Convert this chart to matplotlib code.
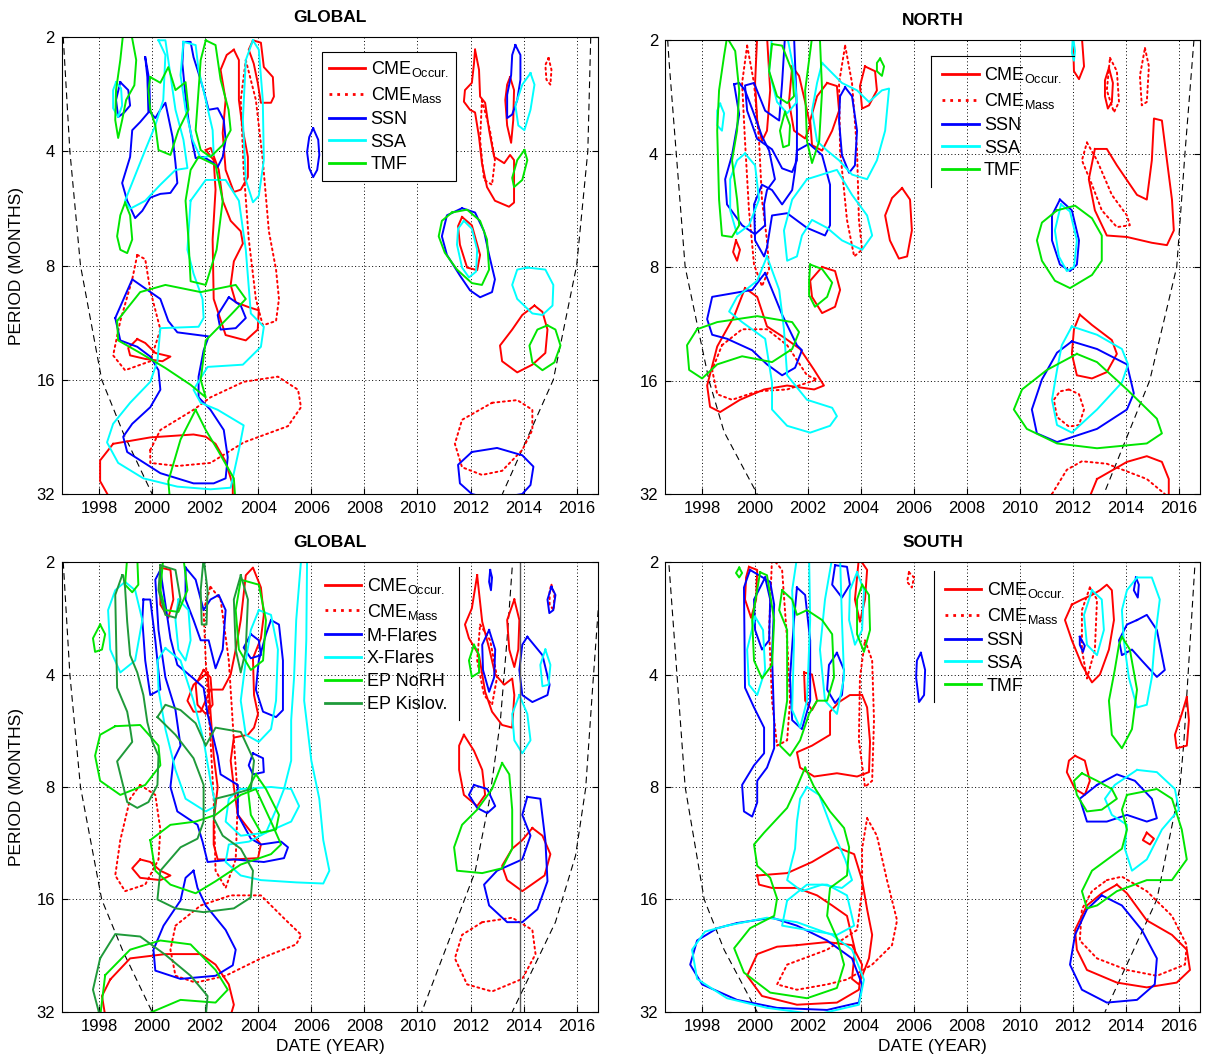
import matplotlib
matplotlib.use("Agg")
import matplotlib.pyplot as plt
from matplotlib.lines import Line2D
from matplotlib.ticker import NullLocator

plt.rcParams["font.family"] = ["Liberation Sans", "DejaVu Sans"]
plt.rcParams["mathtext.default"] = "regular"

# ---------------------------------------------------------------------------
# Data: significance contours, each loop = (years, periods)
# ---------------------------------------------------------------------------

# ---- GLOBAL (top) ----
ga_cme_occ = [
    ([2003.08, 2003.27, 2003.27, 2003.42, 2003.61, 2003.61, 2003.34, 2003.08, 2002.77, 2002.66, 2002.77, 2002.58, 2002.81],
     [2.16, 2.30, 2.93, 3.52, 4.14, 4.68, 5.05, 5.12, 4.48, 3.58, 2.93, 2.44, 2.23]),
    ([2003.8, 2004.1, 2004.21, 2004.55, 2004.59, 2004.48, 2004.1, 2003.98, 2003.83, 2003.64],
     [2.04, 2.07, 2.40, 2.55, 2.87, 2.98, 2.98, 2.64, 2.35, 2.16]),
    ([2002.02, 2002.32, 2002.39, 2002.28, 2002.32, 2002.77, 2003.53, 2003.98, 2004.02, 2003.64, 2003.15, 2002.96, 2003.08, 2003.42, 2003.34, 2002.96, 2002.66, 2002.51, 2002.21],
     [3.97, 4.22, 5.05, 6.83, 9.8, 12.2, 12.6, 11.8, 10.5, 10.3, 10.0, 9.0, 7.8, 7.0, 6.5, 6.1, 5.4, 4.48, 3.92]),
    ([1999.44, 1999.74, 2000.12, 2000.69, 2000.39, 1999.74, 1999.17, 1999.1],
     [12.5, 12.8, 13.6, 13.9, 14.3, 14.1, 13.8, 13.2]),
    ([1998.53, 1999.93, 2001.56, 2002.02, 2002.39, 2002.77, 2003.04, 2003.04, 2001.83, 1998.42, 1998.04, 1998.04],
     [23.6, 22.7, 22.3, 22.6, 23.6, 26.3, 30.3, 34.3, 36.3, 33.0, 29.6, 26.1]),
    ([2012.17, 2012.32, 2012.36, 2012.55, 2012.7, 2012.89, 2013.27, 2013.49, 2013.64, 2013.64, 2013.45, 2012.92, 2012.62, 2012.43, 2012.32, 2012.17, 2011.98, 2011.75, 2011.79, 2012.05, 2012.13],
     [2.16, 2.44, 2.87, 2.98, 3.52, 4.14, 4.30, 4.09, 4.22, 5.46, 5.6, 5.4, 4.97, 4.30, 3.67, 3.16, 3.11, 2.96, 2.76, 2.64, 2.35]),
    ([2013.49, 2013.64, 2013.61, 2013.53, 2013.38, 2013.31, 2013.38],
     [2.55, 2.76, 3.31, 3.8, 3.42, 2.93, 2.67]),
    ([2014.41, 2014.71, 2014.9, 2014.82, 2014.33, 2013.76, 2013.19, 2013.11, 2013.57, 2013.95],
     [10.2, 10.6, 11.8, 13.6, 14.6, 15.3, 14.3, 13.0, 11.8, 10.8]),
    ([2011.68, 2012.05, 2012.36, 2012.25, 2011.87, 2011.6, 2011.53],
     [5.96, 6.27, 7.5, 8.23, 8.1, 7.05, 6.3]),
]
ga_cme_mass = [
    ([1999.93, 2000.31, 2001.56, 2002.2, 2003.45, 2004.74, 2005.5, 2005.61, 2005.12, 2003.45, 2002.2, 2000.95, 1999.93],
     [24.5, 21.7, 19.2, 17.8, 16.2, 15.7, 17.0, 18.9, 21.2, 23.4, 26.5, 27.0, 26.5]),
    ([1999.44, 1999.74, 1999.93, 2000.31, 1999.93, 1998.98, 1998.53, 1998.8, 1999.25],
     [7.5, 7.7, 9.3, 11.8, 14.3, 15.1, 13.8, 11.2, 8.7]),
    ([2003.53, 2003.91, 2004.17, 2004.40, 2004.67, 2004.78, 2004.67, 2004.17, 2003.91, 2003.64, 2003.45, 2003.34],
     [2.3, 2.93, 4.22, 6.5, 8.2, 9.8, 11.2, 11.5, 9.8, 6.8, 4.48, 2.93]),
    ([2012.81, 2013.76, 2014.33, 2014.33, 2013.95, 2013.19, 2012.43, 2011.68, 2011.41, 2011.68],
     [18.4, 18.1, 19.2, 21.7, 24.5, 27.8, 28.5, 27.2, 23.6, 20.4]),
    ([2014.94, 2015.05, 2015.01, 2014.86, 2014.82],
     [2.27, 2.44, 2.67, 2.59, 2.37]),
    ([2012.43, 2012.73, 2012.92, 2012.81, 2012.51, 2012.36],
     [2.93, 3.52, 4.22, 4.9, 4.76, 3.73]),
]
ga_ssn = [
    ([1998.8, 1999.1, 1999.17, 1998.95, 1998.72, 1998.64],
     [2.63, 2.76, 3.03, 3.16, 3.25, 2.93]),
    ([1999.74, 1999.82, 1999.86, 1999.55, 1999.25, 1999.17, 1998.87, 1999.06, 1999.36, 1999.63, 1999.93, 2000.31, 2000.69, 2000.95, 2000.88, 2000.77, 2000.5, 2000.31, 2000.12, 1999.93, 1999.89],
     [2.26, 2.55, 3.16, 3.35, 3.52, 4.14, 4.85, 5.4, 6.0, 5.74, 5.3, 5.18, 5.15, 4.85, 4.3, 3.67, 2.98, 3.11, 3.27, 3.16, 2.59]),
    ([2001.18, 2001.45, 2001.56, 2001.75, 2001.94, 2002.13, 2002.47, 2002.7, 2002.77, 2002.66, 2002.47, 2002.28, 2001.94, 2001.64, 2001.52, 2001.37, 2001.26, 2001.14],
     [2.06, 2.06, 2.26, 2.49, 2.76, 3.11, 3.08, 3.31, 3.73, 4.14, 4.4, 4.28, 4.14, 4.17, 3.8, 3.31, 2.87, 2.35]),
    ([2006.07, 2006.26, 2006.3, 2006.22, 2006.07, 2005.92, 2005.84, 2005.92],
     [3.48, 3.73, 4.09, 4.48, 4.68, 4.43, 4.02, 3.67]),
    ([1998.61, 1999.25, 2000.31, 2000.61, 2000.95, 2002.13, 2001.94, 2001.75, 2001.75, 2002.2, 2002.7, 2002.85, 2002.77, 2002.32, 2001.56, 2000.31, 1999.06, 1998.91, 1999.25, 1999.93, 2000.31, 2000.24, 1999.93, 1999.44, 1998.8],
     [11.0, 8.7, 9.8, 11.2, 12.0, 12.3, 13.4, 15.7, 17.8, 19.2, 21.7, 25.6, 29.1, 30.0, 30.0, 28.2, 24.8, 22.6, 20.9, 18.9, 17.0, 15.1, 13.9, 13.1, 12.6]),
    ([2002.89, 2003.34, 2003.53, 2003.15, 2002.58, 2002.47],
     [9.7, 10.2, 11.0, 11.7, 11.8, 10.8]),
    ([2013.69, 2013.88, 2013.88, 2013.76, 2013.57, 2013.38, 2013.38, 2013.53, 2013.57],
     [2.1, 2.23, 2.59, 2.93, 3.2, 3.27, 2.84, 2.52, 2.23]),
    ([2011.68, 2012.17, 2012.51, 2012.7, 2012.92, 2012.81, 2012.36, 2011.98, 2011.6, 2011.11, 2010.92, 2011.11],
     [5.65, 5.8, 6.5, 7.5, 8.7, 9.4, 9.7, 9.3, 8.5, 7.5, 6.7, 5.9]),
    ([2012.05, 2013.0, 2013.95, 2014.37, 2014.26, 2013.95, 2012.81, 2012.05, 2011.6, 2011.53],
     [24.8, 24.2, 25.3, 27.1, 30.3, 32.0, 33.0, 32.0, 30.0, 26.8]),
]
ga_ssa = [
    ([1998.64, 1998.83, 1998.87, 1998.72, 1998.53, 1998.53],
     [2.63, 2.73, 3.03, 3.25, 3.08, 2.76]),
    ([2000.24, 2000.5, 2000.42, 2000.12, 1999.74, 1999.36, 1998.98, 1999.17, 1999.74, 2000.31, 2000.88, 2001.33, 2001.18, 2000.88, 2000.69, 2000.5],
     [2.04, 2.23, 2.93, 3.42, 3.97, 4.63, 5.4, 5.67, 5.4, 4.9, 4.48, 4.43, 3.73, 3.11, 2.52, 2.04]),
    ([2001.18, 2001.64, 2001.75, 2002.02, 2002.28, 2002.32, 2001.83, 2001.52, 2001.26, 2001.07],
     [2.06, 2.1, 2.44, 2.93, 3.52, 4.09, 4.17, 3.73, 3.11, 2.52]),
    ([2001.45, 2001.33, 2001.56, 2001.9, 2001.94, 2001.75, 2000.31, 2000.2, 1999.93, 1999.17, 1998.53, 1998.3, 1998.72, 1999.67, 2000.95, 2002.2, 2002.96, 2003.27, 2003.45, 2002.47, 2001.83, 2001.56, 2002.09, 2003.42, 2004.1, 2004.21, 2003.72, 2003.53, 2003.27, 2002.77, 2002.02],
     [5.4, 7.27, 8.4, 9.8, 11.0, 11.6, 11.7, 14.3, 16.2, 18.4, 20.9, 23.4, 26.5, 29.1, 30.6, 31.1, 30.8, 24.5, 21.1, 19.2, 18.4, 17.0, 14.8, 14.6, 13.1, 11.6, 10.7, 7.27, 5.4, 4.76, 4.76]),
    ([2003.8, 2004.02, 2004.17, 2004.21, 2004.02, 2003.8, 2003.53, 2003.42, 2003.53],
     [2.04, 2.16, 2.93, 4.22, 5.24, 5.45, 4.76, 3.31, 2.3]),
    ([2011.75, 2012.05, 2012.25, 2012.21, 2011.94, 2011.68, 2011.49, 2011.53],
     [6.1, 6.4, 7.27, 8.3, 8.6, 8.1, 7.05, 6.4]),
    ([2014.26, 2014.41, 2014.26, 2014.03, 2013.8, 2013.69, 2013.95],
     [2.49, 2.67, 3.11, 3.52, 3.42, 3.03, 2.67]),
    ([2014.14, 2014.82, 2015.12, 2015.09, 2014.71, 2014.33, 2013.76, 2013.57, 2013.76],
     [8.1, 8.2, 9.0, 10.2, 10.8, 10.7, 9.8, 9.0, 8.2]),
]
ga_tmf = [
    ([1998.91, 1999.21, 1999.40, 1999.33, 1999.02, 1998.87, 1998.72, 1998.61, 1998.64, 1998.8],
     [1.95, 1.95, 2.3, 2.68, 2.93, 3.31, 3.69, 3.31, 2.76, 2.3]),
    ([1998.98, 1999.17, 1999.25, 1999.06, 1998.8, 1998.68, 1998.8],
     [5.46, 5.9, 6.83, 7.42, 7.27, 6.7, 5.9]),
    ([1999.93, 2000.31, 2000.61, 2000.88, 2001.26, 2001.37, 2000.99, 2000.69, 2000.24, 2000.12, 1999.93, 1999.86],
     [2.55, 2.64, 2.4, 2.76, 2.63, 3.11, 3.52, 4.09, 3.97, 3.42, 3.11, 2.76]),
    ([2002.02, 2002.39, 2002.58, 2002.88, 2002.96, 2002.66, 2002.2, 2001.83, 2001.64, 2001.75, 2001.83],
     [2.04, 2.1, 2.59, 3.11, 3.52, 3.85, 4.14, 3.97, 3.52, 2.76, 2.3]),
    ([1998.68, 1999.55, 2000.5, 2001.83, 2003.15, 2003.53, 2002.96, 2002.02, 2001.83, 2002.02, 2001.45, 2000.5, 1999.55, 1998.72],
     [11.2, 9.4, 9.0, 9.4, 9.0, 9.8, 10.8, 12.6, 16.0, 17.8, 16.5, 14.9, 13.6, 12.6]),
    ([2001.64, 2002.02, 2002.47, 2003.08, 2003.15, 2000.69, 2000.61, 2001.07],
     [19.2, 21.7, 24.5, 29.1, 34.3, 34.3, 29.6, 23.0]),
    ([2001.75, 2002.39, 2002.66, 2002.43, 2002.02, 2001.45, 2001.37, 2001.26, 2001.45],
     [4.14, 4.35, 5.4, 7.27, 9.0, 8.8, 6.83, 5.4, 4.48]),
    ([2011.3, 2011.87, 2012.36, 2012.62, 2012.7, 2012.43, 2012.05, 2011.49, 2011.03, 2010.8, 2010.92],
     [5.8, 5.7, 6.1, 6.83, 8.2, 9.0, 8.9, 8.2, 7.4, 6.7, 6.1]),
    ([2014.03, 2014.14, 2013.95, 2013.64, 2013.57, 2013.76],
     [3.97, 4.22, 4.76, 4.97, 4.7, 4.22]),
    ([2014.9, 2015.2, 2015.39, 2015.16, 2014.71, 2014.33, 2014.22, 2014.52],
     [11.5, 11.8, 13.0, 14.4, 15.1, 14.4, 13.0, 11.8]),
]
ga_coi_left = ([1996.65, 1996.9, 1997.3, 1998.1, 1998.9, 2000.0], [2, 4, 8, 16, 22, 32])
ga_coi_right = ([2016.53, 2016.42, 2016.0, 2015.12, 2013.2], [2, 4, 8, 16, 32])

# ---- NORTH ----
no_cme_occ = [
    ([2000.08, 2000.45, 2000.57, 2000.45, 2000.26, 2000.08, 2000.0],
     [1.95, 1.95, 2.72, 3.48, 3.71, 3.27, 2.6]),
    ([2001.4, 2001.66, 2001.89, 2002.08, 2001.89, 2001.47, 2001.28],
     [2.35, 2.49, 2.92, 3.37, 3.65, 3.48, 2.92]),
    ([2002.72, 2003.09, 2003.17, 2002.91, 2002.53, 2002.15, 2002.08, 2002.34],
     [2.6, 2.65, 3.08, 3.48, 3.93, 3.8, 3.27, 2.82]),
    ([2004.15, 2004.53, 2004.6, 2004.3, 2004.04, 2003.96],
     [2.35, 2.42, 2.72, 2.98, 3.04, 2.65]),
    ([2005.55, 2005.85, 2005.92, 2005.74, 2005.43, 2005.09, 2004.91, 2005.17],
     [4.94, 5.3, 6.4, 7.5, 7.6, 6.8, 5.84, 5.25]),
    ([1999.28, 1999.43, 1999.32, 1999.17],
     [6.8, 7.2, 7.7, 7.3]),
    ([1999.62, 2000.08, 2000.45, 2001.09, 2001.7, 2002.23, 2002.6, 2002.23, 2001.21, 2000.34, 1999.43, 1998.68, 1998.3, 1998.19, 1998.57, 1999.21],
     [9.1, 9.6, 11.5, 12.3, 13.2, 15.0, 16.5, 16.9, 16.5, 16.9, 18.0, 19.4, 18.8, 16.5, 13.0, 10.8]),
    ([2002.53, 2003.02, 2003.21, 2003.02, 2002.53, 2002.15, 2002.08],
     [8.0, 8.2, 9.2, 10.2, 10.6, 9.6, 8.7]),
    ([2012.83, 2013.28, 2013.66, 2014.42, 2014.79, 2014.98, 2015.06, 2015.36, 2015.55, 2015.74, 2015.81, 2015.55, 2014.98, 2014.04, 2013.28, 2012.83, 2012.6],
     [3.89, 3.89, 4.3, 5.15, 5.3, 4.17, 3.23, 3.27, 4.17, 5.3, 6.4, 7.0, 6.9, 6.66, 6.6, 5.66, 4.68]),
    ([2012.0, 2012.34, 2012.42, 2012.23, 2012.04],
     [1.95, 1.97, 2.35, 2.54, 2.42]),
    ([2013.36, 2013.51, 2013.47, 2013.32, 2013.21, 2013.21],
     [2.37, 2.6, 2.92, 3.04, 2.82, 2.56]),
    ([2012.26, 2012.72, 2013.47, 2013.66, 2013.28, 2012.72, 2012.15, 2011.96, 2012.04],
     [10.7, 11.4, 12.5, 13.6, 15.2, 15.8, 15.5, 13.6, 11.7]),
    ([2012.91, 2014.04, 2014.79, 2015.36, 2015.62, 2015.62, 2012.6],
     [29.2, 26.3, 25.4, 26.3, 29.2, 33.0, 33.0]),
]
no_cme_mass = [
    ([2011.85, 2012.23, 2012.42, 2012.23, 2011.85, 2011.4, 2011.28, 2011.51],
     [16.9, 17.4, 19.1, 21.0, 21.2, 20.0, 18.0, 17.1]),
    ([2011.21, 2011.77, 2012.34, 2013.28, 2014.79, 2015.47, 2015.55, 2011.13],
     [32.0, 27.6, 26.2, 26.6, 29.2, 32.0, 33.8, 33.8]),
    ([2012.53, 2012.91, 2013.47, 2014.04, 2014.15, 2013.66, 2013.09, 2012.72, 2012.34],
     [3.74, 4.17, 5.15, 5.84, 6.2, 6.27, 5.66, 4.84, 4.17]),
    ([2014.72, 2014.87, 2014.79, 2014.6, 2014.53],
     [2.1, 2.35, 2.92, 2.98, 2.49]),
    ([2013.4, 2013.66, 2013.74, 2013.55, 2013.28],
     [2.23, 2.42, 2.92, 3.11, 2.72]),
    ([1999.7, 1999.96, 2000.15, 2000.26, 2000.45, 2000.53, 2000.26, 1999.96, 1999.77, 1999.62, 1999.51],
     [2.07, 2.6, 3.71, 5.3, 6.8, 8.1, 9.0, 7.88, 5.66, 3.71, 2.6]),
    ([1998.75, 1999.51, 2000.45, 2001.21, 2001.96, 2002.34, 2001.21, 2000.08, 1999.13, 1998.57, 1998.38],
     [12.9, 11.7, 11.7, 12.9, 15.5, 15.9, 16.9, 17.1, 18.0, 17.4, 15.0]),
    ([2003.4, 2003.66, 2003.85, 2003.92, 2004.04, 2003.74, 2003.47, 2003.21, 2003.17],
     [2.07, 2.6, 3.93, 6.0, 7.2, 7.5, 6.0, 3.93, 2.6]),
]
no_ssn = [
    ([1999.21, 1999.4, 1999.13, 1998.87, 1998.94, 1999.51, 2000.0, 2000.38, 2000.34, 2000.45, 2000.75, 2000.53, 2000.26, 1999.89, 1999.62, 1999.4],
     [2.62, 3.15, 4.04, 4.68, 5.46, 6.2, 6.55, 6.2, 5.46, 5.0, 4.68, 3.93, 3.6, 3.05, 2.72, 2.6]),
    ([2001.13, 2001.47, 2001.58, 2001.58, 2001.4, 2001.02, 2000.64, 2000.08, 1999.7, 1999.62, 1999.96, 2000.38, 2000.91, 2001.02],
     [1.95, 1.95, 3.08, 4.17, 4.48, 4.38, 3.9, 3.66, 3.08, 2.64, 2.6, 3.08, 3.27, 2.6]),
    ([2001.58, 2002.04, 2002.53, 2002.83, 2002.83, 2002.64, 2001.96, 2001.21, 2000.64, 2000.45, 2000.34, 2000.0, 1999.96, 2000.26, 2000.64, 2001.02, 2001.4, 2001.51],
     [3.93, 3.77, 4.04, 4.84, 6.2, 6.6, 6.3, 5.76, 5.84, 7.1, 7.5, 6.8, 5.46, 4.84, 5.0, 5.46, 5.0, 4.42]),
    ([2003.4, 2003.66, 2003.85, 2003.77, 2003.55, 2003.28, 2003.17, 2003.21],
     [2.67, 2.82, 3.48, 4.3, 4.5, 4.04, 3.27, 2.82]),
    ([2000.38, 2000.64, 2001.02, 2001.58, 2001.77, 2001.51, 2001.02, 2000.45, 1999.89, 1998.94, 1998.38, 1998.19, 1998.38, 1999.13, 1999.89, 2000.26],
     [8.3, 9.2, 10.7, 12.9, 13.3, 14.8, 15.5, 14.5, 13.3, 12.4, 12.1, 11.0, 9.6, 9.4, 9.2, 8.5]),
    ([2011.51, 2011.96, 2012.23, 2012.15, 2011.89, 2011.51, 2011.21, 2011.21],
     [5.3, 5.66, 6.8, 7.88, 8.2, 7.88, 6.8, 5.84]),
    ([2011.96, 2012.91, 2014.04, 2014.3, 2014.04, 2012.91, 2011.4, 2010.64, 2010.45, 2010.83, 2011.4],
     [12.6, 13.2, 14.5, 17.3, 19.1, 21.5, 23.3, 22.1, 19.1, 15.9, 13.5]),
]
no_ssa = [
    ([1998.68, 1998.83, 1998.75, 1998.57, 1998.57],
     [2.95, 3.13, 3.48, 3.37, 3.08]),
    ([1999.62, 2000.0, 2000.15, 1999.77, 1999.32, 1999.06, 1999.06, 1999.32],
     [4.0, 4.3, 5.3, 6.2, 6.55, 5.66, 4.68, 4.17]),
    ([2000.64, 2001.21, 2001.47, 2001.58, 2001.21, 2000.83, 2000.53],
     [1.95, 1.95, 2.42, 2.92, 3.13, 2.92, 2.42]),
    ([2002.53, 2003.28, 2003.85, 2004.3, 2004.79, 2005.06, 2004.91, 2004.6, 2004.23, 2003.66, 2003.17, 2002.72, 2002.34, 2002.15, 2002.34],
     [2.3, 2.6, 2.72, 2.92, 2.72, 2.69, 3.48, 4.17, 4.68, 4.55, 4.17, 3.93, 3.71, 3.08, 2.6]),
    ([2001.96, 2003.09, 2003.66, 2004.23, 2004.42, 2004.04, 2003.28, 2002.72, 2002.15, 2001.77, 2001.58, 2001.21, 2001.09, 2001.4],
     [4.68, 4.42, 5.15, 5.84, 6.6, 7.2, 6.8, 6.3, 6.0, 6.6, 7.5, 7.7, 6.4, 5.3]),
    ([2000.45, 2000.91, 2001.09, 2001.21, 2001.96, 2002.91, 2003.09, 2002.83, 2002.08, 2001.21, 2000.64, 2000.64, 2000.38, 1999.51, 1999.02, 1999.32, 2000.08],
     [7.5, 9.2, 11.7, 15.5, 18.0, 18.9, 19.9, 21.1, 22.0, 21.1, 19.1, 16.2, 12.4, 11.2, 10.5, 9.6, 8.7]),
    ([2011.55, 2011.89, 2012.15, 2012.04, 2011.77, 2011.47, 2011.32],
     [5.46, 5.7, 6.8, 8.0, 8.2, 7.5, 6.4]),
    ([2011.96, 2012.91, 2013.85, 2014.08, 2013.85, 2012.91, 2011.96, 2011.4, 2011.21, 2011.4, 2011.58],
     [11.5, 12.1, 13.2, 14.5, 16.2, 19.1, 22.0, 21.0, 18.0, 15.0, 12.9]),
    ([2012.0, 2012.08, 2012.04, 2011.96],
     [1.95, 2.14, 2.27, 2.16]),
]
no_tmf = [
    ([1998.94, 1999.25, 1999.4, 1999.32, 1999.13, 1999.32, 1999.4, 1999.13, 1998.75, 1998.64, 1998.57, 1998.64, 1998.83],
     [1.97, 2.14, 2.72, 3.48, 4.17, 5.3, 6.2, 6.66, 6.6, 5.3, 3.48, 2.72, 2.2]),
    ([2000.64, 2001.02, 2001.4, 2001.47, 2001.21, 2000.83, 2000.53],
     [2.05, 2.07, 2.42, 2.82, 2.94, 2.82, 2.42]),
    ([2001.13, 2001.32, 2001.28, 2001.06, 2000.94],
     [3.1, 3.37, 3.8, 3.85, 3.48]),
    ([2002.15, 2002.45, 2002.53, 2002.42, 2002.15, 2001.96, 2001.89],
     [1.97, 2.0, 2.72, 3.71, 4.24, 3.71, 2.72]),
    ([2004.72, 2004.87, 2004.79, 2004.6, 2004.6],
     [2.24, 2.35, 2.49, 2.42, 2.3]),
    ([2002.08, 2002.53, 2002.91, 2002.72, 2002.26, 2002.04, 2002.04],
     [7.88, 8.1, 8.8, 9.6, 10.2, 9.5, 8.7]),
    ([1997.81, 1998.57, 2000.08, 2001.4, 2001.66, 2001.4, 2000.64, 1999.51, 1998.57, 1998.0, 1997.51, 1997.43],
     [11.7, 11.2, 10.8, 11.2, 11.9, 13.2, 14.3, 13.8, 14.5, 15.8, 15.0, 12.9]),
    ([2011.4, 2012.08, 2012.72, 2013.09, 2013.09, 2012.72, 2011.89, 2011.32, 2010.83, 2010.64, 2010.83],
     [5.66, 5.5, 5.94, 6.6, 7.7, 8.4, 9.1, 8.7, 7.7, 6.8, 6.1]),
    ([2012.15, 2012.91, 2014.04, 2015.17, 2015.36, 2014.79, 2012.91, 2011.4, 2010.26, 2009.77, 2010.08, 2011.02],
     [13.6, 14.3, 16.9, 20.2, 22.1, 23.5, 24.2, 23.5, 21.5, 19.1, 16.9, 15.0]),
]
no_coi_left = ([1996.7, 1996.75, 1997.36, 1998.26, 1998.83, 2000.08], [2.0, 2.27, 8, 16, 21.9, 32])
no_coi_right = ([2016.57, 2016.23, 2015.92, 2014.9, 2013.17], [2, 4, 8, 16, 32])

# ---- GLOBAL (bottom, flares / EP) ----
gb_cme_occ = [
    ([2002.09, 2002.32, 2002.47, 2002.32, 2002.32, 2002.47, 2003.08, 2003.99, 2004.1, 2003.61, 2003.23, 2003.08, 2002.96, 2003.08, 2003.61, 2003.84, 2003.99, 2003.84, 2003.8, 2004.1, 2004.21, 2004.1, 2003.8, 2003.53, 2003.34, 2003.15, 2002.96, 2002.66, 2002.2, 2001.83, 2001.56, 2001.33, 2001.56, 2001.83],
     [3.95, 6.6, 8.0, 9.9, 11.4, 12.5, 12.5, 12.4, 11.4, 10.3, 9.5, 8.0, 6.8, 5.9, 5.8, 5.55, 5.1, 4.54, 3.62, 3.2, 2.77, 2.34, 2.07, 2.17, 2.86, 3.43, 4.0, 4.39, 4.39, 5.03, 5.03, 4.7, 4.26, 4.1]),
    ([2000.31, 2000.69, 2000.8, 2000.61, 2000.31],
     [2.07, 2.1, 2.52, 2.82, 2.6]),
    ([2001.94, 2002.2, 2002.28, 2002.02, 2001.71, 2001.64],
     [3.89, 4.07, 4.82, 5.1, 4.82, 4.26]),
    ([1999.55, 1999.93, 2000.31, 2000.69, 2000.31, 1999.55, 1999.25],
     [12.5, 12.7, 13.4, 13.8, 14.2, 14.0, 13.2]),
    ([1998.42, 1999.17, 2000.5, 2001.83, 2002.39, 2002.89, 2003.08, 2002.96, 1998.23, 1998.11],
     [26.2, 23.0, 22.4, 22.4, 23.9, 27.0, 30.6, 32.7, 32.7, 29.0]),
    ([2012.25, 2012.44, 2012.7, 2012.93, 2013.27, 2013.57, 2013.65, 2013.57, 2013.19, 2012.81, 2012.55, 2012.32, 2011.94, 2011.79, 2012.05],
     [2.17, 2.89, 3.4, 4.0, 4.26, 4.1, 4.54, 5.55, 5.46, 5.03, 4.45, 3.55, 3.2, 2.94, 2.66]),
    ([2013.65, 2013.84, 2013.8, 2013.65, 2013.46, 2013.38],
     [2.52, 2.86, 3.43, 3.82, 3.43, 2.86]),
    ([2011.75, 2012.13, 2012.44, 2012.55, 2012.25, 2011.75, 2011.57, 2011.57],
     [5.8, 6.4, 7.2, 8.4, 9.0, 8.4, 7.2, 6.2]),
    ([2014.33, 2014.71, 2015.01, 2014.79, 2013.95, 2013.38, 2013.19, 2013.57, 2013.95],
     [10.3, 10.8, 12.1, 13.8, 15.2, 14.2, 13.0, 11.7, 11.1]),
]
gb_cme_mass = [
    ([1999.55, 2000.12, 2000.31, 2000.24, 1999.74, 1998.98, 1998.61, 1998.8, 1999.17],
     [7.9, 8.4, 10.4, 12.5, 14.6, 15.2, 13.8, 11.1, 8.6]),
    ([2000.88, 2001.83, 2002.96, 2004.1, 2005.05, 2005.62, 2005.43, 2004.1, 2002.77, 2001.64, 2000.88, 2000.69],
     [18.8, 16.6, 15.6, 15.6, 18.2, 19.9, 21.1, 23.0, 25.6, 26.7, 25.6, 21.8]),
    ([2002.2, 2002.58, 2002.89, 2003.08, 2003.23, 2003.15, 2002.77, 2002.39, 2002.32, 2002.2, 2002.02, 2001.94],
     [2.33, 2.52, 3.67, 6.0, 8.6, 12.5, 14.9, 13.4, 8.6, 6.0, 3.67, 2.69]),
    ([2012.44, 2013.57, 2014.33, 2014.45, 2013.95, 2012.81, 2011.87, 2011.41, 2011.68],
     [18.4, 17.9, 19.3, 22.4, 26.1, 28.2, 27.0, 23.0, 19.9]),
    ([2012.36, 2012.74, 2013.0, 2012.81, 2012.51, 2012.25],
     [2.94, 3.24, 4.07, 4.82, 4.54, 3.67]),
    ([2015.05, 2015.16, 2015.13, 2014.98, 2014.98],
     [2.3, 2.45, 2.69, 2.6, 2.38]),
]
gb_mflares = [
    ([1999.67, 1999.93, 2000.12, 2000.31, 1999.93, 1999.74, 1999.63],
     [2.52, 2.52, 3.24, 4.39, 4.54, 3.67, 2.86]),
    ([2000.31, 2000.69, 2000.95, 2001.56, 2001.94, 2002.09, 2002.47, 2002.58, 2003.23, 2003.23, 2003.72, 2004.1, 2004.86, 2005.12, 2004.97, 2004.21, 2003.08, 2002.09, 2001.9, 2001.71, 2000.95, 2000.69, 2000.8, 2001.07, 2000.88, 2000.5, 2000.24, 2000.12],
     [2.1, 3.2, 3.77, 4.1, 4.34, 5.1, 6.6, 7.4, 7.9, 9.5, 11.0, 11.4, 11.2, 11.6, 12.4, 12.7, 12.5, 12.7, 11.2, 10.1, 9.3, 8.0, 6.8, 6.2, 4.98, 4.07, 3.04, 2.23]),
    ([2001.56, 2001.71, 2002.02, 2002.77, 2003.15, 2003.04, 2002.39, 2001.07, 2000.12, 2000.05, 2000.43, 2001.07, 2001.26],
     [13.4, 14.9, 16.6, 19.3, 21.8, 24.0, 25.6, 26.1, 24.8, 21.8, 18.8, 16.1, 14.0]),
    ([2001.26, 2001.64, 2001.94, 2002.2, 2002.51, 2002.77, 2002.66, 2002.39, 2002.13, 2001.83, 2001.56, 2001.26],
     [2.07, 2.23, 2.69, 2.52, 2.45, 2.69, 3.43, 3.85, 3.24, 3.24, 2.86, 2.52]),
    ([2003.72, 2004.02, 2004.1, 2003.72, 2003.45],
     [3.12, 3.24, 3.55, 3.62, 3.39]),
    ([2004.48, 2004.78, 2004.93, 2004.93, 2004.67, 2004.18, 2003.91, 2004.02, 2004.29],
     [2.86, 2.94, 3.67, 4.98, 5.2, 5.03, 4.39, 3.67, 3.12]),
    ([2003.8, 2004.18, 2004.21, 2003.8, 2003.64],
     [6.5, 6.7, 7.3, 7.4, 7.0]),
    ([2012.7, 2012.93, 2012.89, 2012.7, 2012.47, 2012.44],
     [3.04, 3.43, 4.07, 4.45, 3.89, 3.33]),
    ([2014.14, 2014.71, 2014.98, 2014.9, 2014.33, 2013.95, 2013.84, 2013.95],
     [3.17, 3.55, 4.26, 4.54, 4.74, 4.54, 3.89, 3.33]),
    ([2012.13, 2012.63, 2012.93, 2012.63, 2012.25, 2011.94],
     [7.9, 8.1, 9.0, 9.4, 9.1, 8.4]),
    ([2014.14, 2014.63, 2014.82, 2014.9, 2014.52, 2013.95, 2013.38, 2012.7, 2012.51, 2013.0, 2013.95, 2014.26, 2013.95],
     [8.5, 8.6, 11.1, 14.3, 17.0, 18.4, 18.4, 16.6, 14.6, 13.4, 12.5, 10.8, 9.5]),
    ([2012.74, 2012.81, 2012.77, 2012.7],
     [2.1, 2.2, 2.38, 2.26]),
    ([2015.05, 2015.2, 2015.12, 2014.97, 2014.9],
     [2.33, 2.45, 2.69, 2.74, 2.52]),
]
gb_xflares = [
    ([1998.98, 1999.36, 1999.63, 1999.36, 1998.8, 1998.42, 1998.34, 1998.61],
     [2.26, 2.38, 2.86, 3.67, 3.95, 3.43, 2.69, 2.38]),
    ([2000.5, 2001.07, 2001.56, 2001.94, 2002.2, 2002.39, 2002.02, 2001.26, 2000.88, 2000.5, 2000.24, 2000.2],
     [3.4, 3.67, 4.7, 6.0, 7.7, 9.0, 9.3, 8.6, 7.2, 5.6, 4.39, 3.67]),
    ([2005.62, 2005.84, 2005.81, 2005.73, 2006.0, 2006.3, 2006.45, 2006.68, 2006.45, 2005.43, 2004.1, 2003.34, 2002.77, 2002.89, 2003.65, 2004.29, 2004.67, 2004.97, 2005.24, 2005.24, 2005.35, 2005.43],
     [1.95, 1.95, 3.24, 4.7, 6.8, 8.6, 11.1, 13.4, 14.5, 14.4, 14.2, 13.8, 12.7, 11.4, 11.2, 10.6, 9.2, 8.1, 6.8, 5.3, 4.07, 2.86]),
    ([2004.02, 2004.48, 2004.74, 2004.67, 2004.48, 2004.02, 2003.53, 2003.34, 2003.53, 2003.72],
     [2.69, 2.77, 3.43, 4.7, 5.6, 6.06, 5.8, 4.7, 3.67, 3.04]),
    ([2003.34, 2004.48, 2005.24, 2005.54, 2005.24, 2004.29, 2003.34, 2002.77, 2002.89],
     [8.1, 8.0, 8.1, 9.0, 9.9, 10.6, 10.8, 9.9, 8.6]),
    ([2000.99, 2001.37, 2001.45, 2001.26, 2000.99, 2000.88],
     [2.52, 2.69, 3.24, 3.67, 3.43, 2.86]),
    ([2013.84, 2014.14, 2014.26, 2013.95, 2013.65, 2013.57],
     [4.54, 5.1, 6.0, 6.5, 6.0, 5.1]),
    ([2014.82, 2015.01, 2014.94, 2014.71, 2014.63],
     [3.43, 3.77, 4.26, 4.3, 3.77]),
]
gb_ep_norh = [
    ([1998.04, 1998.23, 1998.11, 1997.85, 1997.77],
     [2.94, 3.12, 3.43, 3.48, 3.2]),
    ([1998.61, 1999.55, 2000.24, 2000.31, 1999.74, 1998.8, 1998.04, 1997.85, 1998.04],
     [5.5, 5.46, 6.2, 7.0, 7.9, 8.4, 7.7, 6.6, 5.8]),
    ([1999.93, 2000.69, 2001.64, 2002.39, 2003.34, 2003.91, 2004.48, 2004.86, 2004.48, 2003.34, 2002.39, 2001.64, 2000.69, 2000.12],
     [11.1, 10.1, 9.9, 9.5, 8.4, 8.1, 9.9, 11.4, 12.1, 12.9, 14.3, 15.4, 14.6, 13.4]),
    ([1998.23, 1999.17, 2000.31, 2001.45, 2002.39, 2002.85, 2002.39, 2001.07, 1999.55, 1998.04],
     [25.5, 21.8, 20.6, 21.1, 24.7, 27.9, 30.2, 29.7, 33.0, 33.0]),
    ([2003.34, 2004.02, 2004.29, 2004.18, 2003.72, 2003.27, 2003.15],
     [2.23, 2.3, 2.86, 3.67, 3.89, 3.43, 2.69]),
    ([1999.06, 1999.44, 1999.48, 1999.25, 1998.98],
     [1.95, 1.95, 2.3, 2.41, 2.3]),
    ([2000.42, 2001.18, 2001.33, 2000.99, 2000.5, 2000.31],
     [1.95, 1.95, 2.38, 2.72, 2.69, 2.38]),
    ([2013.19, 2013.46, 2013.57, 2013.57, 2013.19, 2012.44, 2011.49, 2011.38, 2011.68, 2012.25, 2012.81],
     [6.9, 7.4, 9.2, 11.7, 13.2, 13.6, 13.4, 11.6, 10.1, 9.2, 8.1]),
    ([2012.13, 2012.32, 2012.32, 2012.05, 2011.94],
     [3.33, 3.55, 3.95, 4.06, 3.67]),
    ([2003.91, 2004.29, 2004.78, 2004.67, 2004.1, 2003.72, 2003.61],
     [7.4, 8.1, 9.5, 10.4, 10.6, 9.5, 8.1]),
]
gb_ep_kislov = [
    ([1998.87, 1998.61, 1998.68, 1999.06, 1999.17, 1999.25, 1998.68, 1999.06, 1999.44, 1999.86, 2000.2, 2000.24, 2000.01, 1999.82, 1999.67, 1999.44, 1999.17, 1999.06, 1998.98, 1998.91],
     [2.17, 2.45, 4.34, 5.03, 5.56, 6.06, 6.83, 8.78, 9.1, 8.78, 7.9, 6.6, 6.06, 5.37, 4.54, 3.95, 3.55, 2.89, 2.34, 2.17]),
    ([2000.2, 2000.88, 2001.56, 2001.94, 2001.94, 2001.71, 2001.07, 2000.31, 2000.2, 2000.88, 2001.94, 2003.08, 2003.72, 2003.8, 2003.34, 2002.66, 2002.32, 2002.39, 2002.96, 2003.72, 2003.84, 2003.34, 2002.39, 2002.02, 2001.64, 2001.07, 2000.5],
     [5.2, 5.8, 6.7, 7.9, 9.9, 11.0, 11.6, 13.4, 16.0, 16.9, 17.3, 16.9, 15.8, 13.4, 11.7, 10.8, 9.7, 8.6, 8.4, 8.1, 6.8, 5.7, 5.55, 6.2, 5.4, 4.98, 4.82]),
    ([1998.04, 1998.61, 1999.55, 2000.5, 2001.45, 2002.09, 2002.02, 1999.93, 1998.04, 1997.77],
     [23.0, 19.8, 20.1, 22.5, 25.6, 29.0, 33.0, 33.0, 33.0, 27.9]),
    ([2000.31, 2000.88, 2001.07, 2000.88, 2000.5, 2000.24],
     [2.04, 2.1, 2.52, 2.82, 2.77, 2.38]),
    ([2003.34, 2003.61, 2003.53, 2003.34, 2003.15, 2003.08],
     [2.17, 2.52, 3.43, 3.95, 3.43, 2.52]),
    ([2001.94, 2002.09, 2002.05, 2001.87, 2001.83],
     [1.95, 2.38, 2.94, 2.94, 2.38]),
]
gb_coi_left = ([1996.65, 1996.9, 1997.3, 1998.1, 1998.9, 2000.0], [2, 4, 8, 16, 22, 32])
gb_coi_inner = ([2013.57, 2013.38, 2013.12, 2012.7, 2012.17, 2010.16], [2.07, 3.2, 5.36, 8.77, 13.5, 32])
gb_coi_right = ([2016.87, 2016.6, 2016.34, 2015.96, 2015.2, 2013.57], [2.35, 4.35, 8.05, 12.2, 18.4, 32])
gb_data_end = 2013.86

# ---- SOUTH ----
so_cme_occ = [
    ([1999.77, 2000.08, 2000.04, 1999.85, 1999.62, 1999.66],
     [2.06, 2.1, 2.52, 2.82, 2.52, 2.2]),
    ([2001.85, 2002.15, 2002.34, 2002.15, 2001.89],
     [3.95, 4.0, 4.7, 4.98, 4.7]),
    ([2004.04, 2004.23, 2004.34, 2004.3, 2003.85, 2003.09, 2002.23, 2001.7, 2001.58, 2002.15, 2002.83, 2002.83, 2003.17, 2003.58],
     [4.54, 4.9, 6.06, 7.3, 7.5, 7.35, 7.5, 7.1, 6.46, 6.2, 5.8, 5.03, 4.74, 4.54]),
    ([2003.92, 2004.23, 2004.15, 2003.96, 2003.77],
     [1.95, 2.1, 2.52, 2.89, 2.52]),
    ([2000.08, 2001.21, 2002.15, 2003.09, 2003.74, 2004.04, 2004.23, 2004.42, 2004.3, 2003.92, 2003.66, 2003.77, 2003.47, 2002.91, 2002.34, 2001.58, 2000.64, 2000.15],
     [13.8, 13.6, 12.7, 11.6, 12.1, 14.2, 17.0, 19.9, 23.0, 27.0, 26.1, 21.8, 17.7, 16.6, 15.6, 14.9, 14.9, 14.6]),
    ([2001.58, 2002.72, 2003.66, 2004.04, 2003.92, 2003.09, 2001.58, 2000.26, 1999.7, 2000.08, 2000.83],
     [21.2, 20.8, 21.2, 23.9, 27.9, 30.2, 30.6, 29.0, 25.6, 22.4, 21.4]),
    ([2011.96, 2012.34, 2012.72, 2013.02, 2013.28, 2013.47, 2013.55, 2013.36, 2013.02, 2012.72, 2012.34, 2011.96, 2011.7],
     [2.6, 2.52, 2.45, 2.38, 2.3, 2.38, 2.86, 3.43, 4.0, 4.2, 3.77, 3.24, 2.86]),
    ([2016.3, 2016.38, 2016.3, 2015.92, 2015.85, 2016.11],
     [4.6, 5.3, 6.2, 6.3, 5.8, 5.1]),
    ([2012.08, 2012.45, 2012.64, 2012.45, 2012.08, 2011.77, 2011.85],
     [6.6, 6.8, 7.7, 8.4, 8.1, 7.3, 6.8]),
    ([2014.79, 2015.06, 2014.91, 2014.64],
     [10.6, 11.0, 11.4, 11.1]),
    ([2013.66, 2014.04, 2014.79, 2015.74, 2016.3, 2016.42, 2015.92, 2014.79, 2013.66, 2012.53, 2012.15, 2012.08, 2012.53, 2013.09],
     [14.6, 15.4, 18.2, 19.9, 21.8, 24.7, 26.7, 27.5, 26.7, 24.7, 21.8, 19.3, 16.6, 15.4]),
]
so_cme_mass = [
    ([2004.23, 2004.6, 2004.98, 2005.36, 2005.17, 2004.42, 2003.47, 2002.72, 2001.58, 2000.83, 2001.21, 2002.72, 2003.85, 2004.04, 2004.04],
     [9.7, 10.8, 14.2, 18.2, 21.2, 23.9, 26.2, 27.0, 27.9, 27.0, 23.9, 21.8, 19.3, 15.2, 11.7]),
    ([2000.64, 2001.02, 2001.21, 2001.32, 2001.21, 2000.83, 2000.64, 2000.53],
     [1.95, 2.1, 3.24, 4.7, 6.0, 6.2, 4.7, 3.04]),
    ([2004.15, 2004.42, 2004.49, 2004.42, 2004.15, 2003.92, 2003.96],
     [3.24, 3.67, 5.3, 7.7, 8.0, 6.0, 4.07]),
    ([2005.81, 2006.0, 2005.92, 2005.74],
     [2.13, 2.2, 2.34, 2.26]),
    ([2013.28, 2013.85, 2014.79, 2015.74, 2016.3, 2016.23, 2015.17, 2014.04, 2012.91, 2012.26, 2012.34, 2012.72],
     [14.2, 13.9, 15.2, 17.7, 21.2, 23.9, 25.6, 24.7, 23.0, 20.6, 17.0, 15.2]),
    ([2012.64, 2012.91, 2012.83, 2012.53, 2012.34, 2012.34],
     [2.34, 2.52, 3.43, 4.1, 3.43, 2.69]),
]
so_ssn = [
    ([1999.81, 1999.58, 1999.62, 1999.96, 2000.34, 2000.34, 1999.96, 1999.51, 1999.58, 1999.89, 2000.08, 2000.08, 2000.45, 2000.72, 2000.72, 2000.64, 2000.72, 2000.57],
     [2.1, 2.34, 4.34, 4.9, 5.55, 6.5, 7.0, 7.9, 9.3, 9.6, 8.8, 7.7, 7.1, 6.3, 5.37, 3.55, 2.6, 2.26]),
    ([2000.38, 2000.57, 2000.53, 2000.26, 2000.0, 1999.96],
     [2.2, 2.52, 3.24, 3.43, 3.04, 2.52]),
    ([2001.58, 2001.89, 2002.08, 2002.08, 2001.77, 2001.4, 2001.32, 2001.47],
     [2.34, 2.45, 3.24, 4.7, 5.6, 5.3, 4.07, 2.86]),
    ([2003.09, 2003.36, 2003.28, 2003.02, 2002.72, 2002.79],
     [3.5, 3.89, 4.54, 4.77, 4.39, 3.77]),
    ([2003.02, 2003.47, 2003.58, 2003.28, 2002.91],
     [2.04, 2.06, 2.3, 2.49, 2.3]),
    ([1999.32, 2000.64, 2001.58, 2002.72, 2003.66, 2004.04, 2003.92, 2002.72, 2000.83, 1999.32, 1998.0, 1997.55, 1997.81, 1998.57],
     [18.5, 17.9, 18.8, 20.6, 23.0, 27.0, 30.2, 31.6, 31.2, 29.7, 27.0, 23.9, 20.6, 19.1]),
    ([2006.26, 2006.42, 2006.38, 2006.19, 2006.08, 2006.11],
     [3.5, 3.89, 4.54, 4.74, 4.07, 3.67]),
    ([2014.42, 2014.79, 2015.17, 2015.47, 2015.17, 2014.6, 2014.23, 2013.85, 2013.74, 2014.04],
     [2.86, 2.77, 3.04, 3.89, 4.06, 3.67, 3.43, 3.55, 3.24, 2.94]),
    ([2012.26, 2012.45, 2012.38, 2012.26],
     [3.17, 3.35, 3.48, 3.33]),
    ([2014.38, 2014.49, 2014.45, 2014.3],
     [2.2, 2.3, 2.49, 2.38]),
    ([2012.91, 2013.66, 2014.34, 2014.98, 2015.17, 2014.79, 2014.04, 2013.28, 2012.53, 2012.26],
     [7.9, 7.4, 7.7, 8.6, 9.7, 9.9, 9.5, 9.9, 9.9, 8.6]),
    ([2013.09, 2013.85, 2014.6, 2015.17, 2015.09, 2014.42, 2013.28, 2012.34, 2011.89, 2012.08, 2012.53],
     [15.6, 16.6, 19.3, 23.0, 27.0, 29.7, 30.2, 27.9, 23.9, 19.9, 17.0]),
]
so_ssa = [
    ([2000.0, 2000.3, 2000.38, 2000.08, 1999.77, 1999.7],
     [2.8, 3.04, 3.89, 4.54, 4.26, 3.43]),
    ([2001.58, 2002.04, 2002.08, 2001.96, 2001.7, 2001.4, 2001.47, 2001.4],
     [1.95, 1.95, 2.86, 4.7, 5.55, 4.98, 3.24, 2.38]),
    ([2002.91, 2003.21, 2003.28, 2003.36, 2003.09, 2002.64, 2002.45, 2002.64],
     [1.95, 1.95, 2.86, 4.07, 5.1, 4.7, 3.43, 2.52]),
    ([2003.85, 2004.11, 2004.04, 2003.77, 2003.55, 2003.58],
     [2.13, 2.38, 3.04, 3.33, 2.86, 2.38]),
    ([2001.96, 2002.42, 2002.91, 2003.4, 2003.66, 2003.28, 2002.53, 2001.77, 2001.21, 2001.51, 2001.58, 2001.7],
     [8.0, 8.4, 10.4, 12.5, 14.2, 14.9, 14.6, 15.2, 14.2, 11.7, 9.9, 8.6]),
    ([1998.94, 2000.45, 2001.58, 2002.91, 2003.66, 2004.11, 2003.92, 2002.34, 2000.45, 1998.94, 1997.81, 1997.62, 1998.11],
     [18.8, 17.9, 18.4, 19.9, 21.8, 26.2, 30.6, 32.5, 31.2, 29.4, 26.1, 21.8, 19.5]),
    ([2001.21, 2001.96, 2002.72, 2003.47, 2003.74, 2003.09, 2001.96, 2001.02],
     [16.1, 14.6, 14.6, 15.6, 18.8, 19.9, 19.3, 18.8]),
    ([2012.72, 2013.09, 2013.17, 2012.91, 2012.53, 2012.42],
     [2.38, 2.52, 3.04, 3.55, 3.33, 2.77]),
    ([2014.42, 2014.98, 2015.28, 2015.09, 2014.98, 2014.79, 2014.42, 2014.11, 2013.92, 2013.85, 2014.04],
     [2.2, 2.2, 2.52, 3.24, 4.07, 4.82, 4.9, 4.07, 3.24, 2.69, 2.38]),
    ([2014.42, 2015.17, 2015.85, 2016.0, 2015.36, 2014.79, 2014.23, 2013.96, 2014.04, 2013.47, 2013.21, 2013.58],
     [7.2, 7.3, 8.1, 9.2, 10.4, 12.5, 13.4, 11.7, 10.1, 9.5, 8.6, 7.9]),
]
so_tmf = [
    ([2000.19, 2000.45, 2000.72, 2000.64, 2000.26, 1999.96, 1999.89],
     [2.13, 2.17, 2.86, 3.77, 4.1, 3.67, 2.86]),
    ([2001.02, 2001.4, 2001.58, 2001.96, 2002.53, 2002.91, 2002.98, 2002.72, 2002.34, 2002.04, 2001.7, 2001.32, 2000.94, 2001.21, 2001.21, 2001.21, 2000.91],
     [2.38, 2.52, 2.77, 2.69, 2.86, 3.12, 4.07, 4.7, 4.7, 5.1, 6.0, 6.6, 6.2, 4.7, 3.67, 3.04, 2.69]),
    ([2004.04, 2004.3, 2004.34, 2004.11, 2003.85, 2003.85],
     [2.3, 2.45, 3.04, 3.48, 3.12, 2.52]),
    ([2001.89, 2002.23, 2002.83, 2003.36, 2003.55, 2003.47, 2002.83, 2002.72, 2003.09, 2003.36, 2003.09, 2001.96, 2000.57, 1999.58, 1999.21, 1999.81, 2000.72, 2000.83, 2000.57, 2000.08, 1999.96, 2000.34, 2001.21, 2001.58],
     [7.1, 8.0, 9.3, 10.3, 11.6, 13.8, 14.9, 17.7, 20.3, 23.9, 27.6, 29.4, 28.4, 25.1, 21.6, 19.1, 17.7, 15.9, 14.0, 13.0, 11.4, 10.6, 9.1, 8.0]),
    ([1999.4, 1999.51, 1999.4, 1999.28],
     [2.07, 2.14, 2.2, 2.14]),
    ([2013.85, 2014.15, 2014.42, 2014.23, 2013.85, 2013.47, 2013.36, 2013.58, 2013.74],
     [3.17, 3.43, 4.39, 5.6, 6.3, 5.8, 4.7, 3.89, 3.33]),
    ([2012.34, 2012.91, 2013.47, 2013.66, 2013.09, 2012.53, 2012.15, 2012.04],
     [7.35, 7.7, 8.1, 8.6, 9.2, 9.3, 8.4, 7.7]),
    ([2014.04, 2015.17, 2015.74, 2016.11, 2016.3, 2015.74, 2014.79, 2013.66, 2012.91, 2012.53, 2012.34, 2012.72, 2013.85, 2014.04, 2013.85],
     [8.4, 8.1, 8.6, 10.4, 12.5, 14.2, 14.2, 15.2, 16.6, 16.9, 15.2, 13.4, 11.7, 10.4, 9.2]),
]
so_coi_left = ([1996.75, 1997.36, 1998.08, 1998.83, 2000.08], [2.04, 8, 16, 21.8, 32])
so_coi_right = ([2016.6, 2016.19, 2016.04, 2015.17, 2013.21], [2.07, 6.06, 8, 16, 32])

year_ticks = [1998, 2000, 2002, 2004, 2006, 2008, 2010, 2012, 2014, 2016]
period_ticks = [2, 4, 8, 16, 32]

# ---------------------------------------------------------------------------
RED = "#ff0000"
BLUE = "#0000ff"
CYAN = "#00ffff"
GREEN = "#00e600"
DKGREEN = "#1f9a3a"
SOLID = "-"
DOTTED = (0, (1, 1.8))
LW = 1.4

LBL_OCC = r"CME$_{Occur.}$"
LBL_MASS = r"CME$_{Mass}$"


def draw_loops(ax, loops, color, ls):
    for yrs, per in loops:
        x = list(yrs) + [yrs[0]]
        y = list(per) + [per[0]]
        ax.plot(x, y, color=color, linestyle=ls, linewidth=LW,
                solid_joinstyle="round", dash_capstyle="round")


def draw_panel(ax, title, series, cois, legend_anchor, frame, xlabel, ylabel):
    for yrs, per in cois:
        ax.plot(yrs, per, color="k", linestyle=(0, (6, 4)), linewidth=0.8)
    for label, color, ls, loops in series:
        draw_loops(ax, loops, color, ls)

    ax.set_yscale("log", base=2)
    ax.set_ylim(32, 2)
    ax.set_xlim(1996.6, 2016.8)
    ax.set_yticks(period_ticks)
    ax.set_yticklabels([str(p) for p in period_ticks])
    ax.yaxis.set_minor_locator(NullLocator())
    ax.set_xticks(year_ticks)
    ax.set_xticklabels([str(y) for y in year_ticks])
    ax.tick_params(direction="in", length=4, width=0.8, labelsize=12,
                   right=True, pad=5)
    ax.grid(True, color="k", linestyle=(0, (1, 2.5)), linewidth=0.7)
    for sp in ax.spines.values():
        sp.set_linewidth(0.8)
    ax.set_title(title, fontsize=12.5, fontweight="bold", pad=11)
    if ylabel:
        ax.set_ylabel("PERIOD (MONTHS)", fontsize=12.5)
        ax.yaxis.set_label_coords(-0.07, 0.5)
    if xlabel:
        ax.set_xlabel("DATE (YEAR)", fontsize=12.5)
        ax.xaxis.set_label_coords(0.5, -0.06)

    handles = [Line2D([], [], color=c, linestyle=ls, linewidth=LW + 0.6, label=lab)
               for lab, c, ls, _ in series]
    leg = ax.legend(handles=handles, loc="upper left", bbox_to_anchor=legend_anchor,
                    frameon=frame, fancybox=False, edgecolor="k", framealpha=1,
                    fontsize=13, handlelength=2.0, handletextpad=0.3,
                    labelspacing=0.32, borderpad=0.4, borderaxespad=0)
    if frame:
        leg.get_frame().set_linewidth(0.8)
    return leg


def legend_edges(fig, ax, leg, sides):
    # draw part of a box round a frameless legend, like the original
    fig.canvas.draw()
    bb = leg.get_window_extent().transformed(ax.transAxes.inverted())
    x0, x1, y0, y1 = bb.x0 - 0.008, bb.x1 + 0.008, bb.y0, bb.y1 + 0.005
    segs = {"left": ([x0, x0], [y0, y1]), "right": ([x1, x1], [y0, y1]),
            "top": ([x0, x1], [y1, y1])}
    for s in sides:
        xs, ys = segs[s]
        ax.plot(xs, ys, color="k", linewidth=0.8, transform=ax.transAxes,
                clip_on=False)


fig = plt.figure(figsize=(12.14, 10.61), dpi=100)

ax_ga = fig.add_axes([0.051, 0.5344, 0.4415, 0.4307])
ax_no = fig.add_axes([0.5478, 0.5344, 0.4407, 0.4279])
ax_gb = fig.add_axes([0.051, 0.0462, 0.4415, 0.4241])
ax_so = fig.add_axes([0.5478, 0.0462, 0.4407, 0.4241])

draw_panel(ax_ga, "GLOBAL",
           [(LBL_OCC, RED, SOLID, ga_cme_occ), (LBL_MASS, RED, DOTTED, ga_cme_mass),
            ("SSN", BLUE, SOLID, ga_ssn), ("SSA", CYAN, SOLID, ga_ssa),
            ("TMF", GREEN, SOLID, ga_tmf)],
           [ga_coi_left, ga_coi_right], (0.485, 0.967), True, False, True)

leg_no = draw_panel(ax_no, "NORTH",
                    [(LBL_OCC, RED, SOLID, no_cme_occ), (LBL_MASS, RED, DOTTED, no_cme_mass),
                     ("SSN", BLUE, SOLID, no_ssn), ("SSA", CYAN, SOLID, no_ssa),
                     ("TMF", GREEN, SOLID, no_tmf)],
                    [no_coi_left, no_coi_right], (0.505, 0.96), False, False, False)

leg_gb = draw_panel(ax_gb, "GLOBAL",
                    [(LBL_OCC, RED, SOLID, gb_cme_occ), (LBL_MASS, RED, DOTTED, gb_cme_mass),
                     ("M-Flares", BLUE, SOLID, gb_mflares), ("X-Flares", CYAN, SOLID, gb_xflares),
                     ("EP NoRH", GREEN, SOLID, gb_ep_norh), ("EP Kislov.", DKGREEN, SOLID, gb_ep_kislov)],
                    [gb_coi_left, gb_coi_inner, gb_coi_right], (0.478, 0.985), False, True, True)
ax_gb.axvline(gb_data_end, color="0.35", linewidth=1.0)

leg_so = draw_panel(ax_so, "SOUTH",
                    [(LBL_OCC, RED, SOLID, so_cme_occ), (LBL_MASS, RED, DOTTED, so_cme_mass),
                     ("SSN", BLUE, SOLID, so_ssn), ("SSA", CYAN, SOLID, so_ssa),
                     ("TMF", GREEN, SOLID, so_tmf)],
                    [so_coi_left, so_coi_right], (0.51, 0.975), False, True, False)

legend_edges(fig, ax_no, leg_no, ["left", "top"])
legend_edges(fig, ax_gb, leg_gb, ["right"])
legend_edges(fig, ax_so, leg_so, ["left"])

fig.savefig("out.png", dpi=100)
